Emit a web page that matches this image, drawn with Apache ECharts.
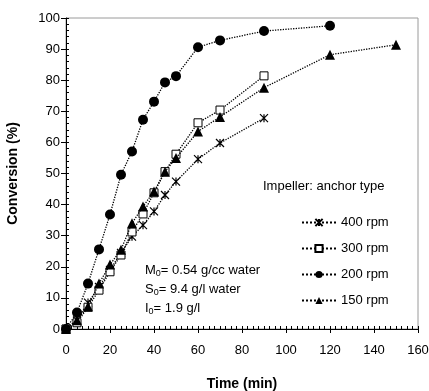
<!DOCTYPE html>
<html><head><meta charset="utf-8">
<script src="https://cdn.jsdelivr.net/npm/echarts@6/dist/echarts.min.js"></script>
<style>html,body{margin:0;padding:0;background:#fff}#c{width:429px;height:391px}</style>
</head><body><div id="c"></div>
<script>
const time400 = [0,5,10,15,20,25,30,35,40,45,50,60,70,90];
const conv400 = [0,3,8.5,13.5,19,24.5,29.7,33.4,37.8,43.1,47.4,54.6,59.8,67.8];
const time300 = [0,5,10,15,20,25,30,35,40,45,50,60,70,90];
const conv300 = [0,2,7,12.5,18.4,23.8,31.2,37,43.8,50.6,56.2,66.3,70.4,81.4];
const time200 = [0,5,10,15,20,25,30,35,40,45,50,60,70,90,120];
const conv200 = [0,5.3,14.6,25.6,36.8,49.6,57.1,67.3,73.1,79.3,81.3,90.6,92.8,95.8,97.5];
const time150 = [0,5,10,15,20,25,30,35,40,45,50,60,70,90,120,150];
const conv150 = [0,2.8,7.2,14.6,20.7,25.5,34,39.4,44.2,50.6,55,63.5,68.2,77.6,88.2,91.4];
const seriesNames = ['400 rpm','300 rpm','200 rpm','150 rpm'];
const xTicks = {min:0, max:160, step:20, minorStep:2.5};
const yTicks = {min:0, max:100, step:10, minorStep:2};

const font = 'Liberation Sans, Arial, sans-serif';
const zip = (a,b)=>a.map((v,i)=>[v,b[i]]);
const star = 'path://M0,0L10,10M10,0L0,10M5,0L5,10';
const line = {type:'dotted', width:1.3, color:'#000'};
const sub = {n:{font:'13px '+font, fill:'#000'}, s:{font:'9px '+font, fill:'#000', padding:[7,0,0,0]}};

const chart = echarts.init(document.getElementById('c'), null, {renderer:'canvas'});
chart.setOption({
  animation:false,
  backgroundColor:'#fff',
  grid:{left:66, right:11, top:18, bottom:62, containLabel:false, outerBoundsMode:'none',
    show:true, borderColor:'#9a9a9a', borderWidth:1, backgroundColor:'transparent'},
  xAxis:[
    {type:'value', min:xTicks.min, max:xTicks.max, interval:xTicks.step,
    name:'Time (min)', nameLocation:'middle', nameGap:48,
    nameTextStyle:{fontFamily:font, fontSize:14, fontWeight:'bold', color:'#000'},
    axisLine:{lineStyle:{color:'#000', width:1}},
    axisTick:{show:true, length:4, lineStyle:{color:'#000'}},
    splitLine:{show:false},
    axisLabel:{fontFamily:font, fontSize:13, color:'#000', margin:15}},
    {type:'value', min:xTicks.min, max:xTicks.max, interval:xTicks.minorStep, position:'bottom',
    axisLine:{show:false}, axisTick:{show:true, inside:true, length:3, lineStyle:{color:'#000'}},
    axisLabel:{show:false}, splitLine:{show:false}}
  ],
  yAxis:[
    {type:'value', min:yTicks.min, max:yTicks.max, interval:yTicks.step,
    name:'Conversion (%)', nameLocation:'middle', nameGap:46, nameRotate:90,
    nameTextStyle:{fontFamily:font, fontSize:14, fontWeight:'bold', color:'#000'},
    axisLine:{show:true, lineStyle:{color:'#000', width:1}},
    axisTick:{show:true, length:5, lineStyle:{color:'#000'}},
    splitLine:{show:false},
    axisLabel:{fontFamily:font, fontSize:13, color:'#000', margin:6}},
    {type:'value', min:yTicks.min, max:yTicks.max, interval:yTicks.minorStep, position:'left',
    axisLine:{show:false}, axisTick:{show:true, inside:true, length:3, lineStyle:{color:'#000'}},
    axisLabel:{show:false}, splitLine:{show:false}}
  ],
  legend:{orient:'vertical', left:296, top:211, itemGap:13, itemWidth:34, itemHeight:9,
    data:seriesNames,
    textStyle:{fontFamily:font, fontSize:13, color:'#000'}},
  graphic:[
    {type:'text', left:263, top:180, style:{text:'Impeller: anchor type', font:'13px '+font, fill:'#000'}},
    {type:'text', left:145, top:264, style:{text:'{n|M}{s|0}{n|= 0.54 g/cc water}', rich:sub}},
    {type:'text', left:145, top:283, style:{text:'{n|S}{s|0}{n|= 9.4 g/l water}', rich:sub}},
    {type:'text', left:145, top:302, style:{text:'{n|I}{s|0}{n|= 1.9 g/l}', rich:sub}}
  ],
  series:[
    {name:seriesNames[0], type:'line', data:zip(time400,conv400), symbol:star, symbolSize:8,
      lineStyle:line, itemStyle:{color:'#000', borderColor:'#000', borderWidth:1.2}, z:3},
    {name:seriesNames[1], type:'line', data:zip(time300,conv300), symbol:'rect', symbolSize:8,
      lineStyle:line, itemStyle:{color:'#fff', borderColor:'#000', borderWidth:1}, z:4},
    {name:seriesNames[2], type:'line', data:zip(time200,conv200), symbol:'circle', symbolSize:10,
      lineStyle:line, itemStyle:{color:'#000'}, z:5},
    {name:seriesNames[3], type:'line', data:zip(time150,conv150), symbol:'triangle', symbolSize:10,
      lineStyle:line, itemStyle:{color:'#000'}, z:6}
  ]
});
</script></body></html>
